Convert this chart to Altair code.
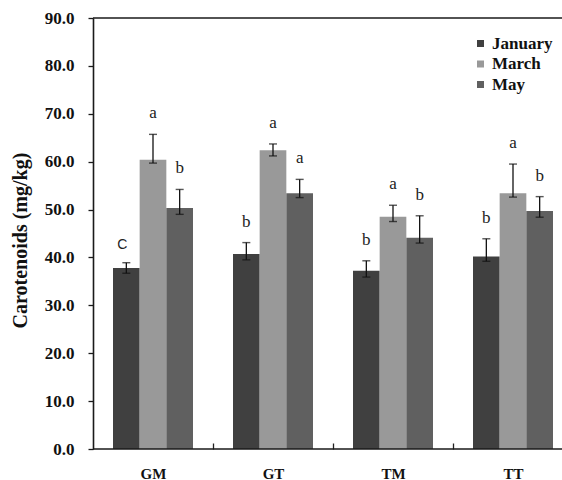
import altair as alt
import pandas as pd

# Sampling sites and sampling months
groups = ["GM", "GT", "TM", "TT"]
months = ["January", "March", "May"]
colors = ["#404040", "#999999", "#606060"]

# Mean carotenoid content (mg/kg) with upper / lower error limits
jan_mean = [37.8, 40.7, 37.2, 40.2]
jan_upper = [38.9, 43.1, 39.3, 43.9]
jan_lower = [36.7, 39.5, 35.9, 39.2]

mar_mean = [60.4, 62.4, 48.5, 53.4]
mar_upper = [65.7, 63.7, 50.9, 59.5]
mar_lower = [59.7, 61.2, 47.5, 52.6]

may_mean = [50.3, 53.4, 44.1, 49.7]
may_upper = [54.2, 56.3, 48.7, 52.7]
may_lower = [49.0, 52.5, 43.0, 48.4]

# Significance letters
jan_letter = ["C", "b", "b", "b"]
mar_letter = ["a", "a", "a", "a"]
may_letter = ["b", "a", "b", "b"]

y_ticks = [0, 10, 20, 30, 40, 50, 60, 70, 80, 90]

rows = []
for month, means, ups, lows, lets in [
    ("January", jan_mean, jan_upper, jan_lower, jan_letter),
    ("March", mar_mean, mar_upper, mar_lower, mar_letter),
    ("May", may_mean, may_upper, may_lower, may_letter),
]:
    for g, m, u, lo, le in zip(groups, means, ups, lows, lets):
        rows.append({"site": g, "month": month, "mean": m, "upper": u,
                     "lower": lo, "letter": le})
df = pd.DataFrame(rows)

W, H = 469, 431
SERIF = "Liberation Serif"
Y_TITLE = "Carotenoids (mg/kg)"
y_scale = alt.Scale(domain=[0, 90], nice=False)

x_enc = alt.X(
    "site:N",
    sort=groups,
    title=None,
    scale=alt.Scale(range=[0, 480], paddingInner=1 / 3, paddingOuter=1 / 6),
    axis=alt.Axis(
        offset=-6,
        domain=False,
        ticks=True,
        tickSize=6,
        tickWidth=1.3,
        tickColor="#222222",
        tickOffset=60,
        labelOffset=-60,
        labelAngle=0,
        labelPadding=29,
        labelBaseline="alphabetic",
        labelFont=SERIF,
        labelFontWeight="bold",
        labelFontSize=15,
        labelColor="#111111",
    ),
)
x_plain = alt.X("site:N", sort=groups, title=None)
xoff = alt.XOffset("month:N", sort=months)

base = alt.Chart(df)

bars = base.mark_bar().encode(
    x=x_enc,
    xOffset=xoff,
    y=alt.Y(
        "mean:Q",
        scale=y_scale,
        axis=alt.Axis(
            values=y_ticks,
            format=".1f",
            grid=False,
            domainColor="#1a1a1a",
            domainWidth=1.6,
            tickColor="#1a1a1a",
            tickWidth=1.3,
            tickSize=5,
            labelPadding=14,
            labelFont=SERIF,
            labelFontWeight="bold",
            labelFontSize=17,
            labelColor="#111111",
            titleFont=SERIF,
            titleFontWeight="bold",
            titleFontSize=20,
            titleColor="#111111",
            titleX=-73,
            titleY=222,
            titleAlign="center",
            titleBaseline="middle",
        ),
        title=Y_TITLE,
    ),
    color=alt.Color(
        "month:N",
        sort=months,
        scale=alt.Scale(domain=months, range=colors),
        legend=alt.Legend(
            title=None,
            orient="none",
            legendX=379,
            legendY=17,
            symbolType="square",
            symbolSize=49,
            symbolStrokeWidth=0,
            symbolOpacity=1,
            labelFont=SERIF,
            labelFontWeight="bold",
            labelFontSize=17,
            labelColor="#111111",
            labelOffset=3,
            rowPadding=2.5,
            padding=0,
        ),
    ),
)

err = base.mark_rule(color="#111111", strokeWidth=1.3).encode(
    x=x_plain,
    xOffset=xoff,
    y=alt.Y("lower:Q", scale=y_scale, title=Y_TITLE),
    y2="upper:Q",
)
cap_hi = base.mark_tick(orient="horizontal", color="#111111", size=8,
                        thickness=1.4).encode(
    x=x_plain, xOffset=xoff,
    y=alt.Y("upper:Q", scale=y_scale, title=Y_TITLE))
cap_lo = base.mark_tick(orient="horizontal", color="#111111", size=8,
                        thickness=1.4).encode(
    x=x_plain, xOffset=xoff,
    y=alt.Y("lower:Q", scale=y_scale, title=Y_TITLE))

letters_main = base.transform_filter(alt.datum.letter != "C").mark_text(
    font=SERIF, fontSize=17, dy=-16, baseline="alphabetic",
    color="#222222",
).encode(x=x_plain, xOffset=xoff,
         y=alt.Y("upper:Q", scale=y_scale, title=Y_TITLE),
         text="letter:N")
letters_c = base.transform_filter(alt.datum.letter == "C").mark_text(
    font="Liberation Sans", fontSize=14, dy=-14, dx=-4, baseline="alphabetic",
    color="#222222",
).encode(x=x_plain, xOffset=xoff,
         y=alt.Y("upper:Q", scale=y_scale, title=Y_TITLE),
         text="letter:N")

# Top and bottom edges of the plot frame
edge_df = pd.DataFrame({"k": [0]})
top_edge = alt.Chart(edge_df).mark_rule(color="#1a1a1a", strokeWidth=1.6).encode(
    x=alt.value(0), x2=alt.value(W), y=alt.value(0))
bottom_edge = alt.Chart(edge_df).mark_rule(color="#1a1a1a", strokeWidth=1.6).encode(
    x=alt.value(0), x2=alt.value(W), y=alt.value(H))

chart = (
    alt.layer(bars, err, cap_hi, cap_lo, letters_main, letters_c,
              top_edge, bottom_edge)
    .properties(
        width=W,
        height=H,
        padding={"left": 93, "top": 18, "right": 0, "bottom": 31},
        autosize=alt.AutoSizeParams(type="none"),
        background="white",
    )
    .configure_view(stroke=None)
)

chart.save("out.html", embed_options={"renderer": "svg", "actions": False})
